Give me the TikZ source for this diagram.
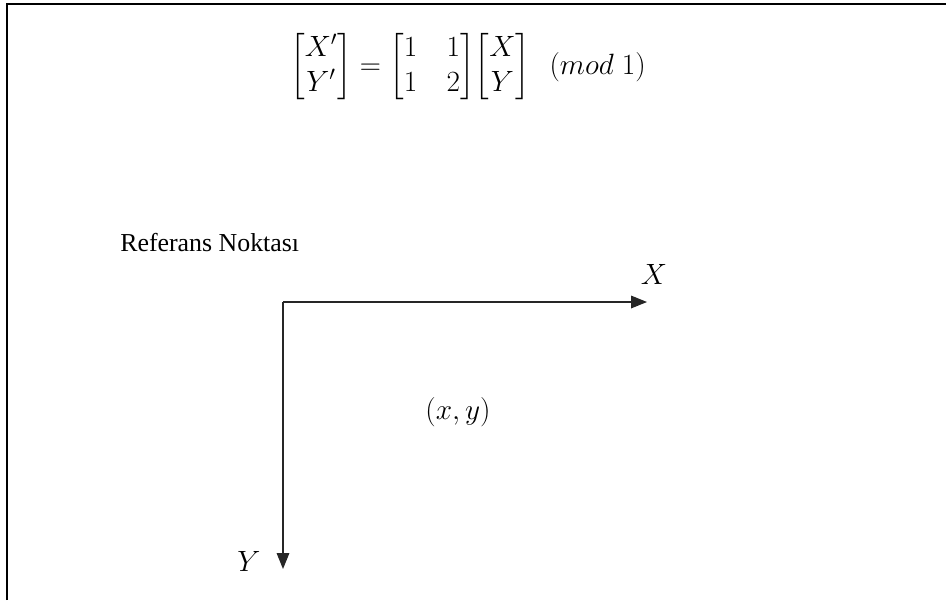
\RequirePackage{fix-cm}
\documentclass[tikz,border=0pt]{standalone}
\usepackage{amsmath}
\usepackage{fontspec}
\setmainfont{Liberation Serif}
\usetikzlibrary{arrows.meta,positioning}

\begin{document}
\begin{tikzpicture}[x=0.75pt,y=-0.75pt,
	axis/.style={-{Triangle[length=12pt,width=9.5pt]},line width=0.9pt,draw=black!85},
	lbl/.style={font=\fontsize{19.4}{23}\selectfont,inner sep=0pt},
	mlbl/.style={font=\fontsize{22}{26}\selectfont,inner sep=0pt}]
		
		\useasboundingbox (0,0) rectangle (946,600);
		
		% open frame, left and top only
		\draw[line width=1.6pt] (7,600) -- (7,4) -- (946,4);
		
		\node[mlbl] (eq) at (468,67)
		{\setlength{\arraycolsep}{1.5pt}$\begin{bmatrix}X'\\Y'\end{bmatrix}=
		{\setlength{\arraycolsep}{11pt}\begin{bmatrix}1&1\\1&2\end{bmatrix}}\!
		\begin{bmatrix}X\\Y\end{bmatrix}\enspace(mod\;1)$};
		
		\node[lbl,anchor=west] (ref) at (120,243)
		{Referans Noktası};
		
		\coordinate (O) at (283,302);
		\coordinate (Xend) at (647,302);
		\coordinate (Yend) at (283,569);
		
		\node[mlbl] (X) at (654,274) {$X$};
		\node[mlbl] (Y) at (249,561) {$Y$};
		\node[mlbl] (P) at (458,412) {$(x,y)$};
		
		\draw[axis] (O) -- (Xend);
		\draw[axis] (O) -- (Yend);
		
	\end{tikzpicture}
\end{document}
